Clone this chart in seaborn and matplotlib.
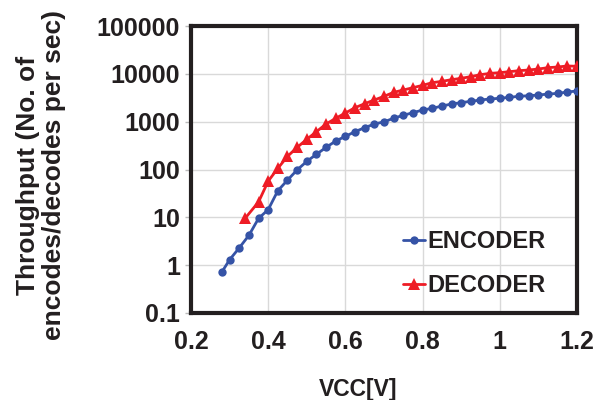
import matplotlib
matplotlib.use("Agg")
import matplotlib.pyplot as plt
import seaborn as sns
import pandas as pd

# Supply voltage sweep (V) and measured throughput (operations per second)
enc_vcc = [0.28, 0.3, 0.325, 0.35, 0.375, 0.4, 0.425, 0.45, 0.475, 0.5,
           0.525, 0.55, 0.575, 0.6, 0.625, 0.65, 0.675, 0.7, 0.725, 0.75,
           0.775, 0.8, 0.825, 0.85, 0.875, 0.9, 0.925, 0.95, 0.975, 1.0,
           1.025, 1.05, 1.075, 1.1, 1.125, 1.15, 1.175, 1.2]
enc_tput = [0.72, 1.3, 2.3, 4.2, 9.5, 14.5, 36, 60, 98, 148,
            208, 290, 394, 493, 618, 748, 893, 990, 1180, 1360,
            1540, 1750, 1900, 2120, 2340, 2500, 2660, 2840, 2980, 3080,
            3230, 3390, 3490, 3600, 3780, 3900, 4170, 4380]

dec_vcc = [0.34, 0.375, 0.4, 0.425, 0.45, 0.475, 0.5, 0.525, 0.55, 0.575,
           0.6, 0.625, 0.65, 0.675, 0.7, 0.725, 0.75, 0.775, 0.8, 0.825,
           0.85, 0.875, 0.9, 0.925, 0.95, 0.975, 1.0, 1.025, 1.05, 1.075,
           1.1, 1.125, 1.15, 1.175, 1.2]
dec_tput = [9.5, 21, 57, 106, 188, 290, 427, 618, 893, 1175,
            1517, 1960, 2375, 2840, 3380, 4100, 4590, 5130, 5750, 6530,
            6970, 7550, 8060, 8730, 9610, 10230, 10570, 11090, 11640, 12020,
            12620, 13450, 13900, 14590, 14400]

x_ticks = [0.2, 0.4, 0.6, 0.8, 1.0, 1.2]
x_tick_labels = ["0.2", "0.4", "0.6", "0.8", "1", "1.2"]
y_ticks = [0.1, 1, 10, 100, 1000, 10000, 100000]
y_tick_labels = ["0.1", "1", "10", "100", "1000", "10000", "100000"]

enc_color = "#3553A6"
dec_color = "#EE1C25"
ink = "#231f20"

sns.set_style("white")
plt.rcParams["font.family"] = ["Liberation Sans", "DejaVu Sans"]
plt.rcParams["font.weight"] = "bold"

fig = plt.figure(figsize=(5.96, 4.0), dpi=100)
ax = fig.add_axes([0.3205, 0.2175, 0.6475, 0.7175])

enc_df = pd.DataFrame({"vcc": enc_vcc, "tput": enc_tput})
dec_df = pd.DataFrame({"vcc": dec_vcc, "tput": dec_tput})

sns.lineplot(data=enc_df, x="vcc", y="tput", ax=ax, color=enc_color,
             marker="o", markersize=6, markeredgewidth=0, linewidth=2.0,
             label="ENCODER", zorder=3)
sns.lineplot(data=dec_df, x="vcc", y="tput", ax=ax, color=dec_color,
             marker="^", markersize=8.5, markeredgewidth=0, linewidth=2.0,
             label="DECODER", zorder=3)

ax.set_yscale("log")
ax.set_xlim(0.2, 1.2)
ax.set_ylim(0.1, 100000)
ax.set_xticks(x_ticks)
ax.set_xticklabels(x_tick_labels)
ax.set_yticks(y_ticks)
ax.set_yticklabels(y_tick_labels)
ax.minorticks_off()

ax.grid(True, which="major", color="#d9d9d9", linewidth=1.0)
ax.set_axisbelow(True)
for sp in ax.spines.values():
    sp.set_color(ink)
    sp.set_linewidth(3.0)
    sp.set_visible(True)

ax.tick_params(axis="y", which="major", length=4, width=1, color="#bbbbbb",
               labelsize=18, pad=4, left=True)
ax.tick_params(axis="x", which="major", length=0, labelsize=18, pad=12)
for lbl in ax.get_xticklabels() + ax.get_yticklabels():
    lbl.set_fontweight("bold")
    lbl.set_color(ink)

ax.set_xlabel("VCC[V]", fontsize=16.5, fontweight="bold", color=ink)
ax.xaxis.set_label_coords(0.433, -0.226)
ax.set_ylabel("Throughput (No. of\nencodes/decodes per sec)", fontsize=19,
              fontweight="bold", color=ink, linespacing=1.1)
ax.yaxis.set_label_coords(-0.325, 0.481)

leg = ax.legend(loc="upper left", bbox_to_anchor=(0.549, 0.29),
                frameon=False, fontsize=17, handlelength=0.95,
                handletextpad=0.1, labelspacing=0.9, borderpad=0.0,
                borderaxespad=0.0)
for t in leg.get_texts():
    t.set_fontweight("bold")
    t.set_color(ink)

fig.savefig("out.png", dpi=100)
